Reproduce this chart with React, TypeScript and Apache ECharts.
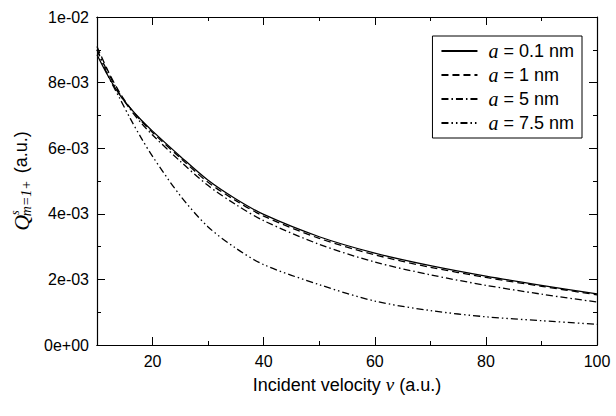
import React, { useEffect, useRef } from "react";
import * as echarts from "echarts";

const velocities = [10, 12, 14, 16, 18, 20, 25, 30, 35, 40, 50, 60, 70, 80, 90, 100];
const q01 = [8.85, 8.2, 7.65, 7.22, 6.85, 6.52, 5.75, 5.02, 4.45, 3.98, 3.3, 2.8, 2.42, 2.1, 1.82, 1.56];
const q1 = [9.1, 8.35, 7.72, 7.22, 6.82, 6.48, 5.7, 4.96, 4.4, 3.93, 3.25, 2.75, 2.37, 2.06, 1.79, 1.53];
const q5 = [9.0, 8.3, 7.68, 7.18, 6.76, 6.4, 5.6, 4.86, 4.28, 3.79, 3.07, 2.53, 2.14, 1.82, 1.55, 1.31];
const q75 = [9.0, 8.2, 7.55, 6.9, 6.3, 5.75, 4.55, 3.6, 2.95, 2.45, 1.84, 1.34, 1.05, 0.86, 0.74, 0.63];
const seriesNames = ["a = 0.1 nm", "a = 1 nm", "a = 5 nm", "a = 7.5 nm"];
const xMajorTicks = [20, 40, 60, 80, 100];

const FONT = "Liberation Sans, Arial, sans-serif";
const SERIF = "Liberation Serif, Times New Roman, serif";

function fmtExp(v: number): string {
  if (v === 0) return "0e+00";
  const s = v.toExponential(0);
  const [m, e] = s.split("e");
  const sign = e[0] === "-" ? "-" : "+";
  const digits = e.replace(/[+-]/, "").padStart(2, "0");
  return `${m}e${sign}${digits}`;
}

export default function App() {
  const ref = useRef<HTMLDivElement>(null);
  useEffect(() => {
    if (!ref.current) return;
    const chart = echarts.init(ref.current, undefined, { renderer: "svg" });
    const all = [q01, q1, q5, q75];
    const dashes: any[] = ["solid", [7, 4], [7, 3, 1.5, 3], [7, 3, 1.5, 3, 1.5, 3]];
    const axisLine = { show: true, lineStyle: { color: "#000", width: 1.2 } };
    const xBase = { type: "value", min: 10, max: 100, splitLine: { show: false }, axisLine };
    const yBase = { type: "value", min: 0, max: 0.01, interval: 0.002, splitLine: { show: false }, axisLine };
    chart.setOption({
      animation: false,
      backgroundColor: "#fff",
      grid: { left: 97, right: 19, top: 17, bottom: 71 },
      xAxis: [
        {
          ...xBase,
          position: "bottom",
          name: "Incident velocity {i|v} (a.u.)",
          nameLocation: "middle",
          nameGap: 30,
          nameTextStyle: {
            fontFamily: FONT, fontSize: 18, color: "#000",
            rich: { i: { fontFamily: SERIF, fontStyle: "italic", fontSize: 19, color: "#000" } },
          },
          axisTick: { show: true, inside: true, length: 8, customValues: xMajorTicks, lineStyle: { color: "#000" } },
          axisLabel: { show: true, customValues: xMajorTicks, fontFamily: FONT, fontSize: 16, color: "#000", margin: 8 },
        },
        {
          ...xBase,
          position: "bottom",
          interval: 10,
          axisTick: { show: true, inside: true, length: 4, lineStyle: { color: "#000" } },
          axisLabel: { show: false },
        },
        {
          ...xBase,
          position: "top",
          axisTick: { show: true, inside: true, length: 8, customValues: xMajorTicks, lineStyle: { color: "#000" } },
          axisLabel: { show: false },
        },
        {
          ...xBase,
          position: "top",
          interval: 10,
          axisTick: { show: true, inside: true, length: 4, lineStyle: { color: "#000" } },
          axisLabel: { show: false },
        },
      ],
      yAxis: [
        {
          ...yBase,
          position: "left",
          name: "{q|Q}{sup|s}{sub|m=1+} (a.u.)",
          nameLocation: "middle",
          nameGap: 62,
          nameTextStyle: {
            fontFamily: FONT, fontSize: 18, color: "#000",
            rich: {
              q: { fontFamily: SERIF, fontStyle: "italic", fontSize: 22, color: "#000" },
              sup: { fontFamily: SERIF, fontStyle: "italic", fontSize: 12, color: "#000", verticalAlign: "top", padding: [0, 0, 10, 0] },
              sub: { fontFamily: SERIF, fontStyle: "italic", fontSize: 14, color: "#000", verticalAlign: "bottom", padding: [10, 2, 0, -6] },
            },
          },
          axisTick: { show: true, inside: true, length: 8, lineStyle: { color: "#000" } },
          minorTick: { show: true, splitNumber: 2, length: 4, lineStyle: { color: "#000" } },
          axisLabel: { show: true, fontFamily: FONT, fontSize: 16, color: "#000", margin: 8, formatter: fmtExp },
        },
        {
          ...yBase,
          position: "right",
          axisTick: { show: true, inside: true, length: 8, lineStyle: { color: "#000" } },
          minorTick: { show: true, splitNumber: 2, length: 4, lineStyle: { color: "#000" } },
          axisLabel: { show: false },
        },
      ],
      legend: {
        orient: "vertical",
        right: 34,
        top: 36,
        itemWidth: 36,
        itemHeight: 14,
        itemGap: 4,
        padding: [5, 8, 5, 8],
        borderColor: "#000",
        borderWidth: 1,
        backgroundColor: "#fff",
        itemStyle: { opacity: 0 },
        data: seriesNames,
        formatter: (name: string) => name.replace(/^a/, "{i|a}"),
        textStyle: {
          fontFamily: FONT, fontSize: 18, lineHeight: 19, color: "#000", padding: [0, 0, 0, 6],
          rich: { i: { fontFamily: SERIF, fontStyle: "italic", fontSize: 20, lineHeight: 19, color: "#000" } },
        },
      },
      series: all.map((arr, i) => ({
        name: seriesNames[i],
        type: "line",
        xAxisIndex: 0,
        yAxisIndex: 0,
        smooth: 0.3,
        symbol: "none",
        data: velocities.map((v, j) => [v, arr[j] / 1000]),
        lineStyle: { color: "#000", width: 1.3, type: dashes[i] },
        itemStyle: { color: "#000" },
      })),
    });
    return () => chart.dispose();
  }, []);
  return <div ref={ref} style={{ position: "absolute", left: 0, top: 0, width: 616, height: 416 }} />;
}
